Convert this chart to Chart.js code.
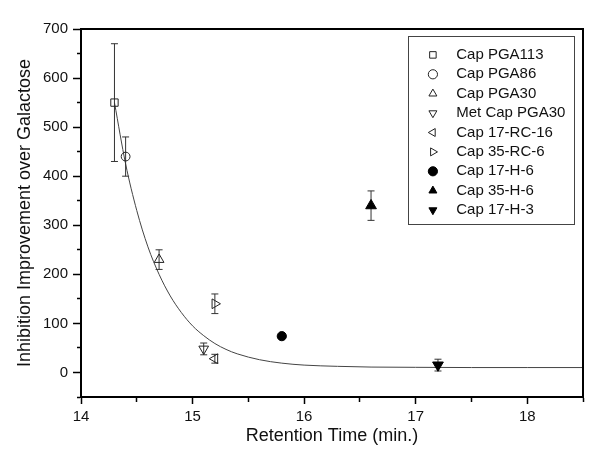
<!DOCTYPE html>
<html>
<head>
<meta charset="utf-8">
<script src="https://cdn.jsdelivr.net/npm/chart.js@4/dist/chart.umd.min.js"></script>
<style>
  html, body { margin: 0; padding: 0; background: #fff; }
  #wrap { width: 601px; height: 458px; }
</style>
</head>
<body>
<div id="wrap"><canvas id="chartCanvas" width="601" height="458"></canvas></div>
<script>
// Messpunkte
const names = ['Cap PGA113', 'Cap PGA86', 'Cap PGA30', 'Met Cap PGA30', 'Cap 17-RC-16',
               'Cap 35-RC-6', 'Cap 17-H-6', 'Cap 35-H-6', 'Cap 17-H-3'];
const retention = [14.3, 14.4, 14.7, 15.1, 15.2, 15.2, 15.8, 16.6, 17.2];
const inhibition = [550, 440, 230, 48, 28, 140, 74, 340, 15];
const errors = [120, 40, 20, 12, 9, 20, 0, 30, 12];

// Fit-Kurve
const curveX = [14.3, 14.4, 14.5, 14.6, 14.7, 14.8, 14.9, 15.0, 15.1, 15.2, 15.3, 15.4,
                15.6, 15.8, 16.0, 16.3, 16.6, 17.0, 17.5, 18.0, 18.5];
const curveY = [550, 425, 330, 256, 200, 156, 122, 95, 75, 59, 47, 38,
                26, 19, 15, 12.5, 11, 10.5, 10, 10, 10];

// Achsen-Ticks
const xTicks = [14, 15, 16, 17, 18];
const yTicks = [0, 100, 200, 300, 400, 500, 600, 700];

// Symbole
const styles = ['rect', 'circle', 'triangle', 'triangle', 'triangle', 'triangle', 'circle', 'triangle', 'triangle'];
const rotations = [0, 0, 0, 180, 270, 90, 0, 0, 180];
const filled = [false, false, false, false, false, false, true, true, true];
const radii = [5.2, 4.4, 5.6, 5.6, 5.6, 5.6, 4.6, 6.2, 6.2];

const font = 'Liberation Sans, Arial, sans-serif';

const datasets = [];
names.forEach((name, i) => {
  datasets.push({
    label: '  ' + name,
    isSeries: true,
    data: [{ x: retention[i], y: inhibition[i] }],
    pointStyle: styles[i],
    rotation: rotations[i],
    pointRadius: radii[i],
    borderWidth: 1,
    borderColor: filled[i] ? '#000' : '#222',
    backgroundColor: filled[i] ? '#000' : 'rgba(0,0,0,0)'
  });
});

// Fehlerbalken als kurze Linien mit Querstrich-Enden
names.forEach((name, i) => {
  if (!errors[i]) return;
  datasets.push({
    data: [{ x: retention[i], y: inhibition[i] - errors[i] },
           { x: retention[i], y: inhibition[i] + errors[i] }],
    showLine: true,
    borderColor: '#333',
    borderWidth: 1,
    pointStyle: 'line',
    pointRadius: 3.5,
    pointBorderWidth: 1,
    pointBorderColor: '#333'
  });
});

datasets.push({
  data: curveX.map((x, i) => ({ x, y: curveY[i] })),
  showLine: true,
  borderColor: '#444',
  borderWidth: 1,
  pointRadius: 0,
  cubicInterpolationMode: 'monotone'
});

// Rahmen ums Diagramm + Legendenkasten
const framePlugin = {
  id: 'frame',
  afterLayout(chart) {
    const a = chart.chartArea;
    chart.legend.left = a.right - 162;
    chart.legend.top = a.top + 14;
  },
  afterDraw(chart) {
    const { ctx, chartArea: a } = chart;
    ctx.save();
    ctx.strokeStyle = '#000';
    ctx.lineWidth = 2;
    ctx.strokeRect(a.left, a.top, a.right - a.left, a.bottom - a.top);
    ctx.strokeStyle = '#444';
    ctx.lineWidth = 1;
    ctx.strokeRect(a.right - 175 + 0.5, a.top + 7 + 0.5, 166, 188);
    ctx.restore();
  }
};

const minorDash = (ctx, isMinor) => isMinor ? [4, 20] : [];

const ctx = document.getElementById('chartCanvas').getContext('2d');
new Chart(ctx, {
  type: 'scatter',
  data: { datasets },
  plugins: [framePlugin],
  options: {
    responsive: false,
    animation: false,
    layout: { padding: { left: 0, top: 29, right: 18, bottom: 0 } },
    plugins: {
      tooltip: { enabled: false },
      legend: {
        position: 'chartArea',
        align: 'start',
        labels: {
          usePointStyle: true,
          boxWidth: 15,
          boxHeight: 6.5,
          padding: 4.4,
          color: '#111',
          font: { family: font, size: 15 },
          filter: (item, data) => !!data.datasets[item.datasetIndex].isSeries
        }
      }
    },
    scales: {
      x: {
        type: 'linear',
        min: 14,
        max: 18.5,
        afterFit: s => { s.height = 61; },
        border: { color: '#000', width: 2 },
        grid: {
          drawOnChartArea: false,
          tickLength: 7,
          tickColor: '#000',
          tickWidth: 1.5,
          tickBorderDash: c => minorDash(c, c.tick && !xTicks.includes(c.tick.value))
        },
        ticks: {
          stepSize: 0.5,
          autoSkip: false,
          maxRotation: 0,
          padding: 4,
          color: '#111',
          font: { family: font, size: 15 },
          callback: v => xTicks.includes(v) ? String(v) : ''
        },
        title: {
          display: true,
          text: 'Retention Time (min.)',
          color: '#111',
          font: { family: font, size: 18 },
          padding: { top: 0, bottom: 11 }
        }
      },
      y: {
        type: 'linear',
        min: -50,
        max: 700,
        afterFit: s => { s.width = 81; },
        border: { color: '#000', width: 2 },
        grid: {
          drawOnChartArea: false,
          tickLength: 8,
          tickColor: '#000',
          tickWidth: 1.5,
          tickBorderDash: c => minorDash(c, c.tick && !yTicks.includes(c.tick.value)),
          tickBorderDashOffset: 20
        },
        ticks: {
          stepSize: 50,
          autoSkip: false,
          padding: 5,
          color: '#111',
          font: { family: font, size: 15 },
          callback: v => yTicks.includes(v) ? String(v) : ''
        },
        title: {
          display: true,
          text: 'Inhibition Improvement over Galactose',
          color: '#111',
          font: { family: font, size: 18 },
          padding: { top: 14, bottom: 0 }
        }
      }
    }
  }
});
</script>
</body>
</html>
